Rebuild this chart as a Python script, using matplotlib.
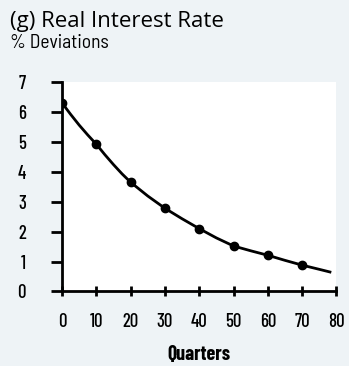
import matplotlib
matplotlib.use("Agg")
import matplotlib.pyplot as plt

# Impulse response of the real interest rate (% deviations)
marker_quarters = [0, 10, 20, 30, 40, 50, 60, 70]
marker_values = [6.30, 4.92, 3.65, 2.78, 2.10, 1.52, 1.21, 0.88]
line_quarters = [0, 2.5, 5, 7.5, 10, 12.5, 15, 17.5, 20, 25, 30, 35, 40, 45, 50, 55, 60, 65, 70, 75, 78.5]
line_values = [6.30, 5.92, 5.56, 5.23, 4.92, 4.57, 4.24, 3.93, 3.65, 3.19, 2.78, 2.43, 2.10, 1.79, 1.52, 1.36, 1.21, 1.04, 0.88, 0.74, 0.64]
x_ticks = [0, 10, 20, 30, 40, 50, 60, 70, 80]
y_ticks = [0, 1, 2, 3, 4, 5, 6, 7]

BG = "#eef3f6"
NARROW = "Barlow Condensed"

fig = plt.figure(figsize=(3.49, 3.66), dpi=100, facecolor=BG)
ax = fig.add_axes([0.1777, 0.2036, 0.7863, 0.5724])
ax.set_facecolor("white")

ax.plot(line_quarters, line_values, color="black", lw=2.0, solid_capstyle="butt")
ax.plot(marker_quarters, marker_values, ls="none", marker="o", ms=6, color="black")

ax.set_xlim(0, 80)
ax.set_ylim(0, 7)
ax.set_xticks(x_ticks)
ax.set_yticks(y_ticks)
ax.set_xticklabels([str(v) for v in x_ticks], family=NARROW, fontsize=13.5, fontweight="medium")
ax.set_yticklabels([str(v) for v in y_ticks], family=NARROW, fontsize=13.5, fontweight="medium")
ax.tick_params(axis="x", direction="inout", length=7, width=2, pad=12)
ax.tick_params(axis="y", direction="out", length=8, width=2, pad=18)
for s in ("top", "right"):
    ax.spines[s].set_visible(False)
for s in ("left", "bottom"):
    ax.spines[s].set_linewidth(2)

ax.set_xlabel("Quarters", family=NARROW, fontweight="bold", fontsize=14.5, labelpad=10)

fig.text(10 / 349, 1 - 27 / 366, "(g) Real Interest Rate", family="Open Sans",
         fontsize=16, va="baseline", ha="left")
fig.text(10 / 349, 1 - 48 / 366, "% Deviations", family="Barlow Semi Condensed",
         fontsize=14, va="baseline", ha="left")

fig.savefig("out.png", dpi=100, facecolor=BG)
